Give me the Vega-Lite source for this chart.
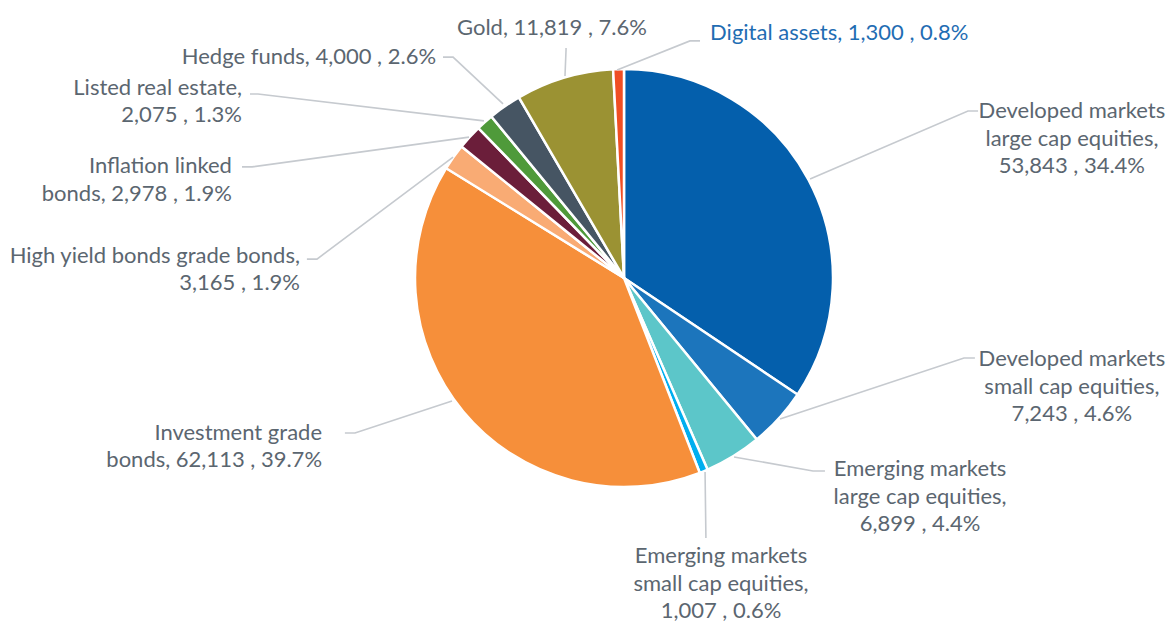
{
  "$schema": "https://vega.github.io/schema/vega-lite/v6.json",
  "width": 1170,
  "height": 622,
  "padding": 0,
  "autosize": {"type": "none"},
  "background": "white",
  "config": {"view": {"stroke": null}, "text": {"font": "Lato"}},
  "datasets": {
    "slices": [
      {"idx": 1, "name": "Developed markets large cap equities", "value": 53843},
      {"idx": 2, "name": "Developed markets small cap equities", "value": 7243},
      {"idx": 3, "name": "Emerging markets large cap equities", "value": 6899},
      {"idx": 4, "name": "Emerging markets small cap equities", "value": 1007},
      {"idx": 5, "name": "Investment grade bonds", "value": 62113},
      {"idx": 6, "name": "High yield bonds grade bonds", "value": 3165},
      {"idx": 7, "name": "Inflation linked bonds", "value": 2978},
      {"idx": 8, "name": "Listed real estate", "value": 2075},
      {"idx": 9, "name": "Hedge funds", "value": 4000},
      {"idx": 10, "name": "Gold", "value": 11819},
      {"idx": 11, "name": "Digital assets", "value": 1300}
    ],
    "labels": [
      {"name": "Developed markets large cap equities", "text": "Developed markets\nlarge cap equities,\n53,843 , 34.4%", "lx": 2.133, "ly": 0.795},
      {"name": "Developed markets small cap equities", "text": "Developed markets\nsmall cap equities,\n7,243 , 4.6%", "lx": 2.133, "ly": -0.386},
      {"name": "Emerging markets large cap equities", "text": "Emerging markets\nlarge cap equities,\n6,899 , 4.4%", "lx": 1.41, "ly": -0.91},
      {"name": "Emerging markets small cap equities", "text": "Emerging markets\nsmall cap equities,\n1,007 , 0.6%", "lx": 0.462, "ly": -1.324},
      {"name": "Investment grade bonds", "text": "Investment grade\nbonds, 62,113 , 39.7%", "lx": -1.438, "ly": -0.738},
      {"name": "High yield bonds grade bonds", "text": "High yield bonds grade bonds,\n3,165 , 1.9%", "lx": -1.543, "ly": 0.105},
      {"name": "Inflation linked bonds", "text": "Inflation linked\nbonds, 2,978 , 1.9%", "lx": -1.867, "ly": 0.533},
      {"name": "Listed real estate", "text": "Listed real estate,\n2,075 , 1.3%", "lx": -1.819, "ly": 0.905},
      {"name": "Hedge funds", "text": "Hedge funds, 4,000 , 2.6%", "lx": -0.895, "ly": 1.052},
      {"name": "Gold", "text": "Gold, 11,819 , 7.6%", "lx": -0.343, "ly": 1.19},
      {"name": "Digital assets", "text": "Digital assets, 1,300 , 0.8%", "lx": 0.41, "ly": 1.167}
    ],
    "leaders": [
      {"name": "Developed markets large cap equities", "seq": 1, "lx": 0.886, "ly": 0.471},
      {"name": "Developed markets large cap equities", "seq": 2, "lx": 1.638, "ly": 0.795},
      {"name": "Developed markets large cap equities", "seq": 3, "lx": 1.686, "ly": 0.795},
      {"name": "Developed markets small cap equities", "seq": 1, "lx": 0.743, "ly": -0.671},
      {"name": "Developed markets small cap equities", "seq": 2, "lx": 1.619, "ly": -0.381},
      {"name": "Developed markets small cap equities", "seq": 3, "lx": 1.671, "ly": -0.381},
      {"name": "Emerging markets large cap equities", "seq": 1, "lx": 0.524, "ly": -0.852},
      {"name": "Emerging markets large cap equities", "seq": 2, "lx": 0.9, "ly": -0.919},
      {"name": "Emerging markets large cap equities", "seq": 3, "lx": 0.957, "ly": -0.919},
      {"name": "Emerging markets small cap equities", "seq": 1, "lx": 0.386, "ly": -0.924},
      {"name": "Emerging markets small cap equities", "seq": 2, "lx": 0.39, "ly": -1.229},
      {"name": "Emerging markets small cap equities", "seq": 3, "lx": 0.39, "ly": -1.238},
      {"name": "Investment grade bonds", "seq": 1, "lx": -0.819, "ly": -0.586},
      {"name": "Investment grade bonds", "seq": 2, "lx": -1.281, "ly": -0.738},
      {"name": "Investment grade bonds", "seq": 3, "lx": -1.329, "ly": -0.738},
      {"name": "High yield bonds grade bonds", "seq": 1, "lx": -0.814, "ly": 0.576},
      {"name": "High yield bonds grade bonds", "seq": 2, "lx": -1.462, "ly": 0.09},
      {"name": "High yield bonds grade bonds", "seq": 3, "lx": -1.51, "ly": 0.09},
      {"name": "Inflation linked bonds", "seq": 1, "lx": -0.738, "ly": 0.671},
      {"name": "Inflation linked bonds", "seq": 2, "lx": -1.771, "ly": 0.529},
      {"name": "Inflation linked bonds", "seq": 3, "lx": -1.819, "ly": 0.529},
      {"name": "Listed real estate", "seq": 1, "lx": -0.667, "ly": 0.748},
      {"name": "Listed real estate", "seq": 2, "lx": -1.743, "ly": 0.876},
      {"name": "Listed real estate", "seq": 3, "lx": -1.781, "ly": 0.876},
      {"name": "Hedge funds", "seq": 1, "lx": -0.576, "ly": 0.829},
      {"name": "Hedge funds", "seq": 2, "lx": -0.814, "ly": 1.052},
      {"name": "Hedge funds", "seq": 3, "lx": -0.862, "ly": 1.052},
      {"name": "Gold", "seq": 1, "lx": -0.281, "ly": 0.962},
      {"name": "Gold", "seq": 2, "lx": -0.276, "ly": 1.086},
      {"name": "Gold", "seq": 3, "lx": -0.276, "ly": 1.095},
      {"name": "Digital assets", "seq": 1, "lx": -0.033, "ly": 0.99},
      {"name": "Digital assets", "seq": 2, "lx": 0.314, "ly": 1.129},
      {"name": "Digital assets", "seq": 3, "lx": 0.362, "ly": 1.129}
    ]
  },
  "layer": [
    {
      "data": {"name": "slices"},
      "mark": {"type": "arc", "outerRadius": 209, "stroke": "white", "strokeWidth": 2.5},
      "encoding": {
        "theta": {"field": "value", "type": "quantitative", "stack": true},
        "order": {"field": "idx", "type": "quantitative"},
        "x": {"datum": 0, "type": "quantitative", "scale": {"domain": [-2.9714, 2.6], "nice": false, "zero": false}, "axis": null},
        "y": {"datum": 0, "type": "quantitative", "scale": {"domain": [-1.6381, 1.3238], "nice": false, "zero": false}, "axis": null},
        "color": {
          "field": "name",
          "type": "nominal",
          "legend": null,
          "scale": {
            "domain": ["Developed markets large cap equities", "Developed markets small cap equities", "Emerging markets large cap equities", "Emerging markets small cap equities", "Investment grade bonds", "High yield bonds grade bonds", "Inflation linked bonds", "Listed real estate", "Hedge funds", "Gold", "Digital assets"],
            "range": ["#045fac", "#1c75bc", "#5cc6c9", "#00aeef", "#f68f3a", "#f9ab74", "#6b1e3a", "#4f9a3a", "#465563", "#9b9233", "#f04e23"]
          }
        }
      }
    },
    {
      "data": {"name": "leaders"},
      "mark": {"type": "line", "color": "#c6cacf", "strokeWidth": 1.6},
      "encoding": {
        "x": {"field": "lx", "type": "quantitative", "scale": {"domain": [-2.9714, 2.6], "nice": false, "zero": false}, "axis": null},
        "y": {"field": "ly", "type": "quantitative", "scale": {"domain": [-1.6381, 1.3238], "nice": false, "zero": false}, "axis": null},
        "detail": {"field": "name", "type": "nominal"},
        "order": {"field": "seq", "type": "quantitative"}
      }
    },
    {
      "data": {"name": "labels"},
      "transform": [{"filter": {"field": "name", "oneOf": ["Developed markets large cap equities", "Developed markets small cap equities", "Emerging markets large cap equities", "Emerging markets small cap equities", "Gold"]}}],
      "mark": {"type": "text", "align": "center", "baseline": "middle", "fontSize": 22, "lineHeight": 27.5, "lineBreak": "\n", "color": "#5b6670"},
      "encoding": {
        "x": {"field": "lx", "type": "quantitative", "scale": {"domain": [-2.9714, 2.6], "nice": false, "zero": false}, "axis": null},
        "y": {"field": "ly", "type": "quantitative", "scale": {"domain": [-1.6381, 1.3238], "nice": false, "zero": false}, "axis": null},
        "text": {"field": "text", "type": "nominal"}
      }
    },
    {
      "data": {"name": "labels"},
      "transform": [{"filter": {"field": "name", "oneOf": ["Investment grade bonds", "High yield bonds grade bonds", "Inflation linked bonds", "Listed real estate", "Hedge funds"]}}],
      "mark": {"type": "text", "align": "right", "baseline": "middle", "fontSize": 22, "lineHeight": 27.5, "lineBreak": "\n", "color": "#5b6670"},
      "encoding": {
        "x": {"field": "lx", "type": "quantitative", "scale": {"domain": [-2.9714, 2.6], "nice": false, "zero": false}, "axis": null},
        "y": {"field": "ly", "type": "quantitative", "scale": {"domain": [-1.6381, 1.3238], "nice": false, "zero": false}, "axis": null},
        "text": {"field": "text", "type": "nominal"}
      }
    },
    {
      "data": {"name": "labels"},
      "transform": [{"filter": {"field": "name", "equal": "Digital assets"}}],
      "mark": {"type": "text", "align": "left", "baseline": "middle", "fontSize": 22, "lineHeight": 27.5, "lineBreak": "\n", "color": "#1f6db3"},
      "encoding": {
        "x": {"field": "lx", "type": "quantitative", "scale": {"domain": [-2.9714, 2.6], "nice": false, "zero": false}, "axis": null},
        "y": {"field": "ly", "type": "quantitative", "scale": {"domain": [-1.6381, 1.3238], "nice": false, "zero": false}, "axis": null},
        "text": {"field": "text", "type": "nominal"}
      }
    }
  ]
}
